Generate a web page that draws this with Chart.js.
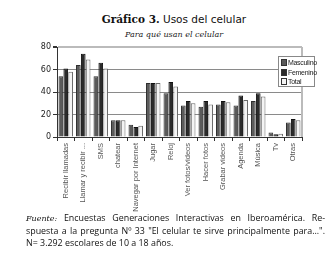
<!DOCTYPE html>
<html lang="es">
<head>
  <meta charset="UTF-8">
  <title>Usos del celular</title>
  <script src="https://cdn.jsdelivr.net/npm/chart.js"></script>
  <style>
    html, body {
      margin: 0;
      padding: 0;
      background: #fff;
      width: 334px;
      height: 273px;
      overflow: hidden;
      position: relative;
    }

    #title {
      position: absolute;
      top: 13px;
      left: 0;
      width: 348px;
      text-align: center;
      font-family: 'DejaVu Sans', sans-serif;
      font-size: 10.5px;
      color: #111;
    }

    #title b {
      font-family: 'DejaVu Serif', serif;
    }

    #subtitle {
      position: absolute;
      top: 30px;
      left: 0;
      width: 348px;
      text-align: center;
      font-family: 'DejaVu Serif', serif;
      font-style: italic;
      font-size: 8px;
      color: #222;
    }

    #chartBox {
      position: absolute;
      left: 0;
      top: 40px;
      width: 334px;
      height: 172px;
    }

    #legend {
      position: absolute;
      left: 278px;
      top: 56px;
      width: 37px;
      height: 31px;
      background: #fff;
      border: 1px solid #888;
      font-family: 'Liberation Sans Narrow', 'Liberation Sans', sans-serif;
      font-size: 7px;
      color: #222;
      padding: 1px 0 0 2px;
      box-sizing: border-box;
    }

    #legend div {
      height: 9.5px;
      line-height: 9.5px;
      white-space: nowrap;
      letter-spacing: -0.3px;
    }

    #legend span {
      display: inline-block;
      width: 4px;
      height: 5px;
      margin-right: 1px;
      border: 1px solid #333;
      vertical-align: -1px;
    }

    #source {
      position: absolute;
      left: 26px;
      top: 212px;
      width: 299px;
      font-family: 'Open Sans', sans-serif;
      font-size: 8.9px;
      line-height: 12px;
      color: #111;
    }

    #source .j {
      text-align: justify;
      text-align-last: justify;
    }

    #source i {
      font-family: 'DejaVu Serif', serif;
      font-size: 8px;
    }
  </style>
</head>
<body>

  <div id="title"><b>Gráfico 3.</b> Usos del celular</div>
  <div id="subtitle">Para qué usan el celular</div>

  <div id="chartBox">
    <canvas id="usosChart"></canvas>
  </div>

  <div id="legend"></div>

  <div id="source">
    <div class="j"><i>Fuente:</i> Encuestas Generaciones Interactivas en Iberoamérica. Re-</div>
    <div class="j">spuesta a la pregunta Nº 33 "El celular te sirve principalmente para...".</div>
    <div>N= 3.292 escolares de 10 a 18 años.</div>
  </div>

  <script>
    const categories = [
      'Recibir llamadas', 'Llamar y recibir ...', 'SMS', 'chatear', 'Navegar por Internet',
      'Jugar', 'Reloj', 'Ver fotos/videos', 'Hacer fotos', 'Grabar videos',
      'Agenda', 'Música', 'Tv', 'Otras'
    ];
    const masculino = [54, 64, 54, 15, 11, 48, 39, 28, 27, 29, 28, 32, 4, 13];
    const femenino  = [61, 74, 66, 15, 9, 48, 49, 32, 32, 32, 37, 39, 2.5, 16];
    const total     = [58, 69, 61, 15, 10, 48, 45, 30, 29, 31, 33, 36, 3, 15];
    const yTicks = [0, 10, 20, 30, 40, 50, 60, 70, 80];

    const series = [
      { label: 'Masculino', data: masculino, bg: '#5a5a5a', border: '#2e2e2e' },
      { label: 'Femenino',  data: femenino,  bg: '#2b2b2b', border: '#111111' },
      { label: 'Total',     data: total,     bg: '#f4f4f4', border: '#6a6a6a' }
    ];

    const chart = new Chart(document.getElementById('usosChart'), {
      type: 'bar',
      data: {
        labels: categories,
        datasets: series.map(s => ({
          label: s.label,
          data: s.data,
          backgroundColor: s.bg,
          borderColor: s.border,
          borderWidth: 1,
          categoryPercentage: 0.84,
          barPercentage: 0.95
        }))
      },
      options: {
        responsive: true,
        maintainAspectRatio: false,
        animation: false,
        devicePixelRatio: 1,
        layout: { padding: { top: 7, right: 32, left: 0, bottom: 0 } },
        plugins: {
          legend: { display: false },
          tooltip: { enabled: false }
        },
        scales: {
          x: {
            afterFit: (scale) => { scale.height = 75; },
            grid: {
              offset: true,
              drawOnChartArea: false,
              tickLength: 4,
              color: '#333'
            },
            border: { color: '#333' },
            ticks: {
              autoSkip: false,
              maxRotation: 90,
              minRotation: 90,
              padding: 2,
              color: '#555',
              font: { family: "'Liberation Sans Narrow', 'Liberation Sans', sans-serif", size: 7.5 }
            }
          },
          y: {
            min: 0,
            max: 80,
            afterFit: (scale) => { scale.width = 57; },
            afterBuildTicks: (scale) => { scale.ticks = yTicks.map(v => ({ value: v })); },
            grid: {
              color: (ctx) => ctx.tick && ctx.tick.value === 80 ? '#bbbbbb' : '#8a8a8a',
              lineWidth: (ctx) => ctx.tick && ctx.tick.value === 80 ? 2 : 1,
              tickLength: 4,
              tickColor: '#333'
            },
            border: { color: '#333' },
            ticks: {
              padding: 2,
              color: '#222',
              font: { family: "'DejaVu Sans', sans-serif", size: 8 }
            }
          }
        }
      },
      plugins: [{
        id: 'rightBorder',
        afterDraw(c) {
          const a = c.chartArea;
          const ctx = c.ctx;
          ctx.save();
          ctx.strokeStyle = '#bbbbbb';
          ctx.lineWidth = 2;
          ctx.beginPath();
          ctx.moveTo(a.right, a.top);
          ctx.lineTo(a.right, a.bottom);
          ctx.stroke();
          ctx.restore();
        }
      }]
    });

    const legendBox = document.getElementById('legend');
    series.forEach(s => {
      const row = document.createElement('div');
      row.innerHTML = '<span style="background:' + s.bg + '"></span>' + s.label;
      legendBox.appendChild(row);
    });
  </script>
</body>
</html>
